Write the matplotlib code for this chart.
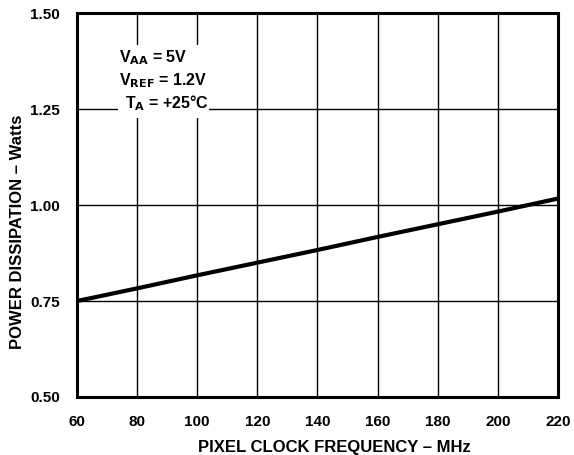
import matplotlib.pyplot as plt
from matplotlib.patches import Rectangle

plt.rcParams['font.family'] = ['Liberation Sans', 'DejaVu Sans']
plt.rcParams['font.weight'] = 'bold'

freq_mhz = [60, 80, 100, 120, 140, 160, 180, 200, 220]
power_w = [0.750, 0.783, 0.817, 0.850, 0.883, 0.917, 0.950, 0.983, 1.017]
x_ticks = [60, 80, 100, 120, 140, 160, 180, 200, 220]
y_ticks = [0.50, 0.75, 1.00, 1.25, 1.50]
y_tick_labels = ['0.50', '0.75', '1.00', '1.25', '1.50']


def plotResult():
    fig = plt.figure(figsize=(5.74, 4.55), dpi=100)
    ax = fig.add_axes([0.134, 0.1275, 0.838, 0.8435])

    ax.plot(freq_mhz, power_w, color='black', lw=3, solid_capstyle='butt', zorder=4)

    ax.set_xlim(60, 220)
    ax.set_ylim(0.5, 1.5)
    ax.set_xticks(x_ticks)
    ax.set_yticks(y_ticks)
    ax.set_yticklabels(y_tick_labels)
    ax.tick_params(length=0, labelsize=11, pad=12)
    ax.tick_params(axis='x', pad=13)
    ax.grid(True, color='black', lw=1.0)
    ax.set_axisbelow(True)
    for s in ax.spines.values():
        s.set_linewidth(2.2)

    ax.set_xlabel('PIXEL CLOCK FREQUENCY – MHz', fontsize=12, fontweight='bold')
    ax.set_ylabel('POWER DISSIPATION – Watts', fontsize=12, fontweight='bold')
    ax.xaxis.set_label_coords(0.535, -0.1315)
    ax.yaxis.set_label_coords(-0.124, 0.431)
    ax.xaxis.label.set_va('center')
    ax.yaxis.label.set_va('center')

    # white box behind the conditions text
    ax.add_patch(Rectangle((73.5, 1.228), 30.5, 0.19, facecolor='white',
                           edgecolor='none', zorder=2))
    ax.text(73.9, 1.385, r'V$_{\mathbf{AA}}$ = 5V', fontsize=11.5, fontweight='bold',
            va='center', ha='left', zorder=3)
    ax.text(73.9, 1.325, r'V$_{\mathbf{REF}}$ = 1.2V', fontsize=11.5, fontweight='bold',
            va='center', ha='left', zorder=3)
    ax.text(76.0, 1.265, r'T$_{\mathbf{A}}$ = +25°C', fontsize=11.5, fontweight='bold',
            va='center', ha='left', zorder=3)

    plt.savefig('out.png', dpi=100)


if __name__ == '__main__':
    plotResult()
